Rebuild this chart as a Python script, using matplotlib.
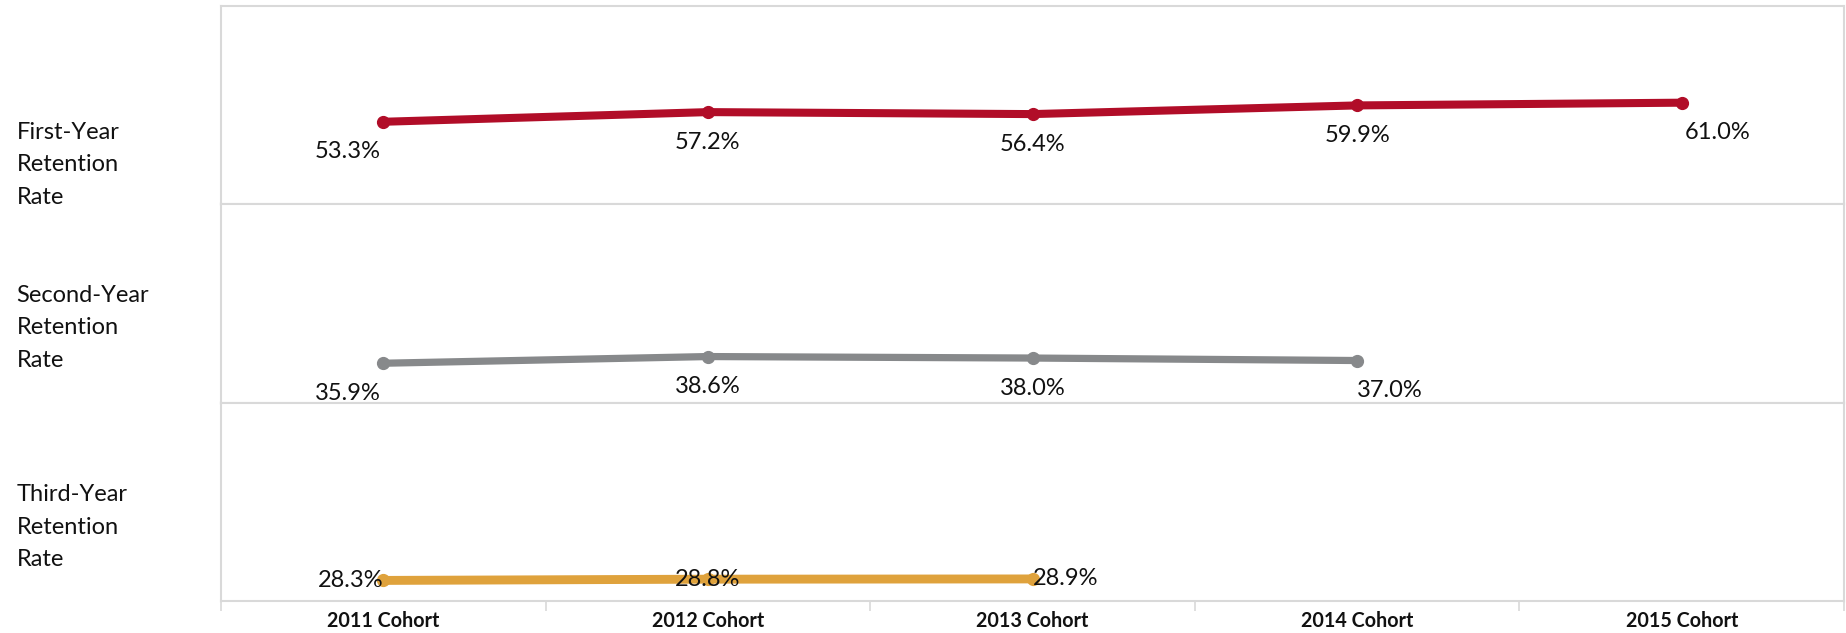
import matplotlib.pyplot as plt
from matplotlib.ticker import FixedLocator

# --- data ---
COHORTS = ["2011 Cohort", "2012 Cohort", "2013 Cohort", "2014 Cohort", "2015 Cohort"]
ROW_LABELS = ["First-Year\nRetention\nRate", "Second-Year\nRetention\nRate", "Third-Year\nRetention\nRate"]
FIRST_YEAR = [53.3, 57.2, 56.4, 59.9, 61.0]
SECOND_YEAR = [35.9, 38.6, 38.0, 37.0]
THIRD_YEAR = [28.3, 28.8, 28.9]

SERIES = [FIRST_YEAR, SECOND_YEAR, THIRD_YEAR]
COLORS = ["#b10d28", "#87898b", "#dfa23c"]
WIDTHS = [5.8, 5.2, 6.4]
ROW_LABEL_Y = [0.20, 0.378, 0.373]  # vertical centre of row label, axes fraction
GRID = "#d9d9d9"

plt.rcParams["font.family"] = ["Lato", "DejaVu Sans"]

fig = plt.figure(figsize=(18.46, 6.33), dpi=100)
axes = fig.subplots(3, 1, sharex=True)
fig.subplots_adjust(left=221 / 1846, right=1844 / 1846, top=1 - 6 / 633,
                    bottom=1 - 601 / 633, hspace=0)

for i, (ax, vals, color, lw) in enumerate(zip(axes, SERIES, COLORS, WIDTHS)):
    xs = list(range(len(vals)))
    ax.plot(xs, vals, color=color, lw=lw, marker="o", markersize=8.5,
            solid_capstyle="round", zorder=3)
    ax.set_ylim(20, 100)
    ax.set_xlim(-0.5, len(COHORTS) - 0.5)
    ax.set_yticks([])

    last = len(vals) - 1
    for j, v in enumerate(vals):
        txt = f"{v:.1f}%"
        if i < 2:
            # labels sit under the point
            if j == 0:
                ha, dx = "right", -3
            elif j == last and i == 0:
                ha, dx = "left", 3
            elif j == last:
                ha, dx = "left", 0
            else:
                ha, dx = "center", 0
            ax.annotate(txt, (j, v), xytext=(dx, -30), textcoords="offset pixels",
                        ha=ha, va="center", fontsize=17, color="#111111")
        else:
            # third row: labels on the line
            if j == 0:
                ha = "right"
            elif j == last:
                ha = "left"
            else:
                ha = "center"
            ax.annotate(txt, (j, v), xytext=(0, 0), textcoords="offset pixels",
                        ha=ha, va="center", fontsize=17, color="#111111", zorder=4)

    ax.text(-0.126, ROW_LABEL_Y[i], ROW_LABELS[i], transform=ax.transAxes,
            ha="left", va="center", fontsize=17, linespacing=1.68, color="#111111")

    for side in ["left", "right", "top", "bottom"]:
        ax.spines[side].set_color(GRID)
        ax.spines[side].set_linewidth(1.5)
    ax.tick_params(axis="x", which="both", length=0)

bottom = axes[-1]
bottom.set_xticks(range(len(COHORTS)))
bottom.set_xticklabels(COHORTS, fontsize=14.2, fontweight="bold", color="#111111")
bottom.xaxis.set_minor_locator(FixedLocator([k - 0.5 for k in range(len(COHORTS) + 1)]))
bottom.tick_params(axis="x", which="major", length=0, pad=7)
bottom.tick_params(axis="x", which="minor", length=7, width=1.2, color=GRID)

fig.savefig("out.png", dpi=100)
